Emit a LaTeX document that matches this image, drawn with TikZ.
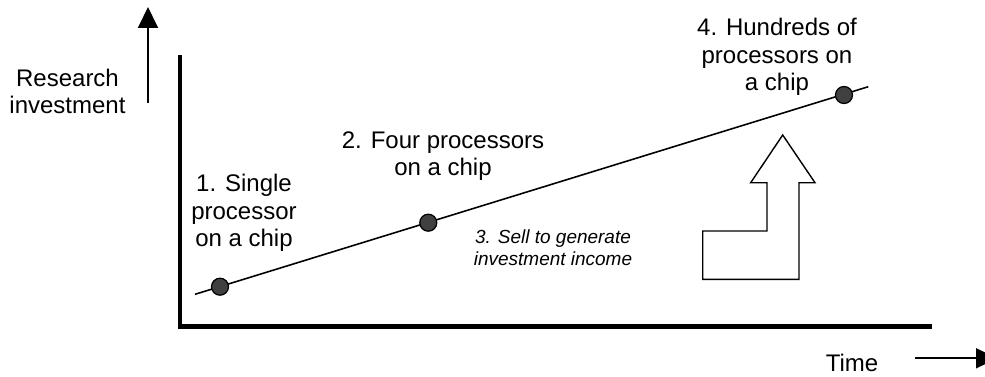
\documentclass[tikz,border=0pt]{standalone}
\usepackage{fontspec}
\setmainfont{Liberation Sans}
\usetikzlibrary{positioning, arrows.meta}

\begin{document}
\begin{tikzpicture}[x=0.02cm, y=-0.02cm,
    every dot/.style={circle, draw, line width=0.7pt, fill=black!75, minimum size=0.34cm, inner sep=0pt},
    label text/.style={align=center, font=\fontsize{13.66}{15.7}\selectfont},
    note text/.style={align=center, font=\fontsize{10.8}{12.6}\selectfont\itshape},
    axis line/.style={line width=2.6pt},
    dir arrow/.style={line width=1.1pt, -{Triangle[width=0.4cm, length=0.42cm]}}]

    \useasboundingbox (0, 0) rectangle (985, 376);

    % Axes
    \coordinate (top) at (180, 55);
    \coordinate (origin) at (180, 326.5);
    \coordinate (right) at (932, 326.5);
    \draw[axis line] (top) -- (origin) -- (right);

    % Growth line with the three milestones
    \coordinate (L-start) at (195, 294.3);
    \coordinate (L-end) at (868.3, 86.7);
    \draw[line width=0.9pt] (L-start) -- (L-end);
    \foreach \n/\x/\y in {1/220/286.7, 2/428.3/222.7, 4/844/95}
        \node[every dot] (D-\n) at (\x, \y) {};

    % Milestone labels
    \node[label text] (T-1) at (244, 213) {1. Single\\processor\\on a chip};
    \node[label text] (T-2) at (443, 156) {2. Four processors\\on a chip};
    \node[note text] (T-3) at (553, 248) {3. Sell to generate\\investment income};
    \node[label text] (T-4) at (777, 57) {4. Hundreds of\\processors on\\a chip};

    % Bent block arrow
    \draw[line width=0.8pt, line join=miter] (782.7, 135) -- (815, 182.7) -- (799, 182.7) -- (799, 279.3)
        -- (702.7, 279.3) -- (702.7, 231) -- (767, 231) -- (767, 182.7) -- (750.7, 182.7) -- cycle;

    % Axis captions
    \node[label text] (ylabel) at (67.5, 91.5) {Research\\investment};
    \node[label text] (xlabel) at (852, 363) {Time};
    \coordinate (up-from) at (148, 103);
    \coordinate (up-to) at (148, 7);
    \draw[dir arrow] (up-from) -- (up-to);
    \coordinate (time-from) at (915, 358.3);
    \coordinate (time-to) at (997, 358.3);
    \draw[dir arrow] (time-from) -- (time-to);

\end{tikzpicture}
\end{document}
